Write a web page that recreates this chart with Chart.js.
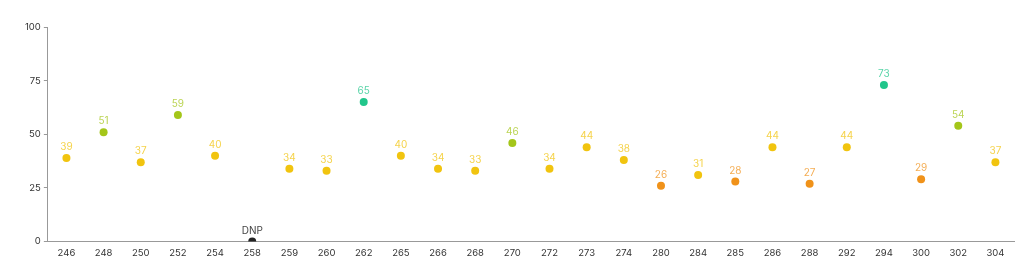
<!DOCTYPE html>
<html>
<head>
<meta charset="utf-8">
<script src="https://cdn.jsdelivr.net/npm/chart.js@4/dist/chart.umd.min.js"></script>
<style>
  html, body { margin: 0; padding: 0; background: #fff; }
  #wrap { width: 1024px; height: 275px; position: relative; }
</style>
</head>
<body>
<div id="wrap"><canvas id="chart"></canvas></div>
<script>
// Data (null = DNP, drawn at 0)
const categories = ['246', '248', '250', '252', '254', '258', '259', '260', '262', '265', '266', '268', '270',
  '272', '273', '274', '280', '284', '285', '286', '288', '292', '294', '300', '302', '304'];
const scores = [39, 51, 37, 59, 40, null, 34, 33, 65, 40, 34, 33, 46,
  34, 44, 38, 26, 31, 28, 44, 27, 44, 73, 29, 54, 37];
const yTicks = [0, 25, 50, 75, 100];

function colorFor(v, alpha) {
  let rgb;
  if (v === null) rgb = '34, 34, 34';
  else if (v >= 60) rgb = '33, 198, 139';
  else if (v >= 45) rgb = '164, 198, 26';
  else if (v >= 30) rgb = '241, 196, 15';
  else rgb = '240, 146, 26';
  return `rgba(${rgb}, ${alpha})`;
}

// labels above each point
const pointLabels = {
  id: 'pointLabels',
  afterDatasetsDraw(chart) {
    const ctx = chart.ctx;
    const meta = chart.getDatasetMeta(0);
    ctx.save();
    ctx.font = '10px Inter, sans-serif';
    ctx.textAlign = 'center';
    ctx.textBaseline = 'bottom';
    meta.data.forEach((pt, i) => {
      const v = scores[i];
      ctx.fillStyle = v === null ? 'rgba(34, 34, 34, 0.85)' : colorFor(v, 0.75);
      ctx.fillText(v === null ? 'DNP' : String(v), pt.x, pt.y - 6);
    });
    ctx.restore();
  }
};

new Chart(document.getElementById('chart'), {
  type: 'line',
  data: {
    labels: categories,
    datasets: [{
      data: scores.map(v => v === null ? 0 : v),
      showLine: false,
      pointRadius: 4,
      pointHoverRadius: 4,
      pointBorderWidth: 0,
      pointBackgroundColor: scores.map(v => colorFor(v, 1)),
      pointBorderColor: scores.map(v => colorFor(v, 1))
    }]
  },
  options: {
    responsive: true,
    maintainAspectRatio: false,
    animation: false,
    layout: { padding: { top: 27, right: 10, left: 22, bottom: 14 } },
    plugins: { legend: { display: false }, tooltip: { enabled: false } },
    scales: {
      x: {
        offset: true,
        grid: { display: false, drawOnChartArea: false, drawTicks: true, tickLength: 4, color: '#999' },
        border: { color: '#999' },
        ticks: { color: '#333', font: { size: 9.5, family: 'Inter, sans-serif' }, padding: 2, maxRotation: 0, autoSkip: false }
      },
      y: {
        min: 0,
        max: 100,
        afterBuildTicks: axis => { axis.ticks = yTicks.map(v => ({ value: v })); },
        grid: { drawOnChartArea: false, drawTicks: true, tickLength: 4, color: '#999' },
        border: { color: '#999' },
        ticks: { color: '#333', font: { size: 9.5, family: 'Inter, sans-serif' }, padding: 3 }
      }
    }
  },
  plugins: [pointLabels]
});
</script>
</body>
</html>
